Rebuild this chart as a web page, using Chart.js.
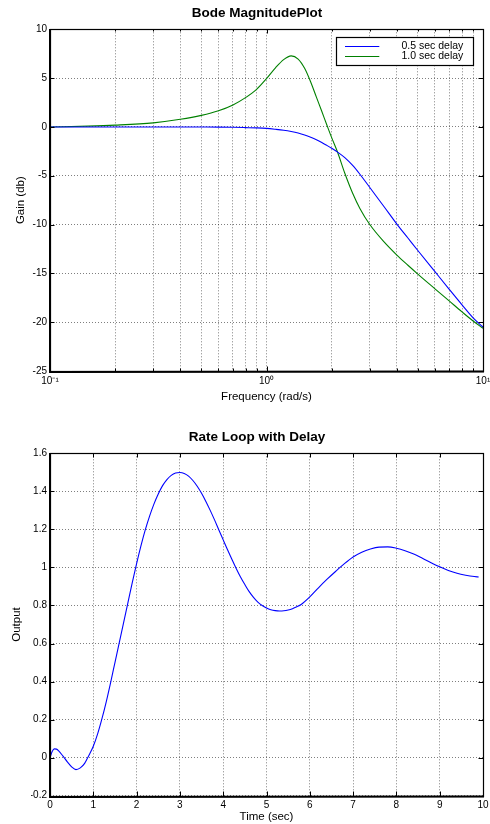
<!DOCTYPE html>
<html>
<head>
<meta charset="utf-8">
<script src="https://cdn.jsdelivr.net/npm/chart.js@4/dist/chart.umd.min.js"></script>
<style>
  html, body { margin: 0; padding: 0; background: #fff; }
  #wrap { position: relative; width: 490px; height: 824px; }
  canvas { position: absolute; left: 0; }
  #bode { top: 0; }
  #step { top: 412px; }
</style>
</head>
<body>
<div id="wrap">
  <canvas id="bode" width="490" height="412"></canvas>
  <canvas id="step" width="490" height="412"></canvas>
</div>
<script>
// ---- Bode magnitude: frequency (rad/s) and gain (dB) for each delay ----
const bodeFreq = [0.1, 0.15, 0.2, 0.3, 0.4, 0.5, 0.6, 0.7, 0.8, 0.9, 1.0, 1.1, 1.2, 1.3, 1.4, 1.5, 1.6, 1.7, 1.8, 1.9,
                  2.0, 2.13, 2.3, 2.5, 2.7, 3.0, 3.5, 4.0, 4.5, 5.0, 6.0, 7.0, 8.0, 9.0, 10];
const gainHalfSec = [0, 0, 0, 0, 0, -0.01, -0.02, -0.04, -0.07, -0.1, -0.15, -0.24, -0.34, -0.47, -0.63, -0.83, -1.06, -1.31, -1.59, -1.89,
                     -2.19, -2.58, -3.15, -3.95, -4.85, -6.2, -8.2, -9.95, -11.38, -12.66, -14.83, -16.66, -18.22, -19.55, -20.5];
const gainOneSec = [0, 0.08, 0.18, 0.42, 0.78, 1.18, 1.65, 2.25, 3.0, 3.85, 4.95, 6.05, 6.9, 7.28, 6.95, 6.0, 4.6, 3.05, 1.6, 0.2,
                    -1.1, -2.6, -4.75, -6.8, -8.35, -10.0, -11.81, -13.13, -14.17, -15.07, -16.58, -17.85, -18.95, -19.88, -20.62];
const seriesLabels = ['0.5 sec delay', '1.0 sec delay'];

// log-axis grid positions and the decade labels
const freqTicks = [0.1, 0.2, 0.3, 0.4, 0.5, 0.6, 0.7, 0.8, 0.9, 1, 2, 3, 4, 5, 6, 7, 8, 9, 10];
const decadeLabels = { '0.1': '10\u207B\u00B9', '1': '10\u2070', '10': '10\u00B9' };
const gainTicks = [-25, -20, -15, -10, -5, 0, 5, 10];

// ---- Step response of the rate loop ----
const stepTime = [0, 0.05, 0.1, 0.15, 0.2, 0.3, 0.4, 0.5, 0.6, 0.7, 0.8, 0.9,
                  1.0, 1.1, 1.2, 1.3, 1.4, 1.5, 1.6, 1.7, 1.8, 1.9,
                  2.0, 2.1, 2.2, 2.3, 2.4, 2.5, 2.6, 2.7, 2.8, 2.9,
                  3.0, 3.1, 3.2, 3.3, 3.4, 3.5, 3.6, 3.7, 3.8, 3.9,
                  4.0, 4.1, 4.2, 4.3, 4.4, 4.5, 4.6, 4.7, 4.8, 4.9,
                  5.0, 5.1, 5.2, 5.3, 5.4, 5.5, 5.6, 5.7, 5.8,
                  6.0, 6.2, 6.4, 6.6, 6.8, 7.0, 7.2, 7.4, 7.6, 7.8,
                  8.0, 8.2, 8.4, 8.6, 8.8, 9.0, 9.2, 9.4, 9.6, 9.8, 9.9];
const stepOutput = [0, 0.032, 0.046, 0.045, 0.036, 0.008, -0.022, -0.048, -0.063, -0.054, -0.030, 0.013,
                    0.06, 0.125, 0.205, 0.295, 0.395, 0.5, 0.605, 0.71, 0.815, 0.92,
                    1.02, 1.113, 1.197, 1.27, 1.333, 1.386, 1.43, 1.462, 1.484, 1.496,
                    1.499, 1.494, 1.48, 1.457, 1.427, 1.39, 1.347, 1.30, 1.25, 1.197,
                    1.145, 1.093, 1.043, 0.995, 0.95, 0.91, 0.873, 0.843, 0.818, 0.8,
                    0.787, 0.778, 0.773, 0.771, 0.772, 0.776, 0.783, 0.793, 0.805,
                    0.845, 0.893, 0.938, 0.98, 1.02, 1.055, 1.08, 1.097, 1.107, 1.108,
                    1.101, 1.088, 1.07, 1.048, 1.025, 1.003, 0.984, 0.969, 0.959, 0.952, 0.95];
const timeTicks = [0, 1, 2, 3, 4, 5, 6, 7, 8, 9, 10];
const outputTicks = [-0.2, 0, 0.2, 0.4, 0.6, 0.8, 1, 1.2, 1.4, 1.6];

const FONT = '"Liberation Sans", Arial, Helvetica, sans-serif';
const GRID = 'rgba(0,0,0,0.5)';

// Axes box with inward tick marks on all four sides
const frame = {
  id: 'frame',
  afterDraw(chart) {
    const { ctx, chartArea: a } = chart;
    const xs = chart.scales.x, ys = chart.scales.y;
    const L = Math.round(a.left), R = Math.round(a.right), T = Math.round(a.top), B = Math.round(a.bottom);
    ctx.save();
    ctx.strokeStyle = '#000';
    ctx.lineWidth = 1;
    ctx.beginPath();
    xs.ticks.forEach(t => {
      const minor = xs.type === 'logarithmic' && !(String(t.value) in decadeLabels);
      const len = minor ? 2.5 : 4.5;
      const px = Math.round(xs.getPixelForValue(t.value)) + 0.5;
      ctx.moveTo(px, B); ctx.lineTo(px, B - len);
      ctx.moveTo(px, T); ctx.lineTo(px, T + len);
    });
    ys.ticks.forEach(t => {
      const py = Math.round(ys.getPixelForValue(t.value)) + 0.5;
      ctx.moveTo(L, py); ctx.lineTo(L + 4.5, py);
      ctx.moveTo(R, py); ctx.lineTo(R - 4.5, py);
    });
    ctx.stroke();
    ctx.lineWidth = 1.2;
    ctx.strokeRect(L + 0.5, T + 0.5, R - L, B - T);
    ctx.lineWidth = 2;
    ctx.beginPath();
    ctx.moveTo(L, T); ctx.lineTo(L, B + 1); ctx.lineTo(R + 1, B + 0.5);
    ctx.stroke();
    ctx.restore();
  }
};

// Boxed legend in the upper right of the plot area
const boxLegend = {
  id: 'boxLegend',
  afterDraw(chart) {
    const { ctx, chartArea: a } = chart;
    const w = 136.7, h = 27.7;
    const x0 = a.right - 10.3 - w, y0 = a.top + 8;
    ctx.save();
    ctx.fillStyle = '#fff';
    ctx.fillRect(x0, y0, w, h);
    ctx.strokeStyle = '#000';
    ctx.lineWidth = 1.2;
    ctx.strokeRect(Math.round(x0) + 0.5, Math.round(y0) + 0.5, Math.round(w), Math.round(h));
    ctx.font = '10.5px ' + FONT;
    ctx.textAlign = 'right';
    ctx.textBaseline = 'middle';
    chart.data.datasets.forEach((ds, i) => {
      const yy = Math.round(y0 + 8.7 + i * 10) + 0.5;
      ctx.strokeStyle = ds.borderColor;
      ctx.lineWidth = 1.1;
      ctx.beginPath(); ctx.moveTo(x0 + 9, yy); ctx.lineTo(x0 + 43.3, yy); ctx.stroke();
      ctx.fillStyle = '#000';
      ctx.fillText(ds.label, x0 + w - 9.4, yy);
    });
    ctx.restore();
  }
};

function lineSet(label, xs, ys, color) {
  return {
    label,
    data: xs.map((x, i) => ({ x, y: ys[i] })),
    borderColor: color,
    borderWidth: 1.1,
    pointRadius: 0,
    fill: false,
    cubicInterpolationMode: 'monotone'
  };
}

function axisTitle(text, pad) {
  return { display: true, text, color: '#000', font: { family: FONT, size: 11.5, lineHeight: 1.2 }, padding: pad };
}

const common = {
  responsive: false,
  animation: false,
  events: [],
  devicePixelRatio: 1
};

new Chart(document.getElementById('bode'), {
  type: 'line',
  data: {
    datasets: [
      lineSet(seriesLabels[0], bodeFreq, gainHalfSec, '#0000ff'),
      lineSet(seriesLabels[1], bodeFreq, gainOneSec, '#008000')
    ]
  },
  options: Object.assign({}, common, {
    layout: { padding: { left: 31, right: 7, top: 0, bottom: 0 } },
    plugins: {
      legend: { display: false },
      tooltip: { enabled: false },
      title: {
        display: true, text: 'Bode MagnitudePlot', color: '#000',
        font: { family: FONT, size: 13.5, weight: 'bold', lineHeight: 1.2 },
        padding: { top: 5.2, bottom: 7.9 }
      }
    },
    scales: {
      x: {
        type: 'logarithmic', min: 0.1, max: 10,
        afterBuildTicks: ax => { ax.ticks = freqTicks.map(v => ({ value: v })); },
        afterFit: ax => { ax.height = 41; ax.paddingLeft = 0; ax.paddingRight = 0; },
        ticks: {
          autoSkip: false, maxRotation: 0, padding: 4.7, color: '#000',
          font: { family: FONT, size: 10 },
          callback: v => decadeLabels[String(v)] ?? ''
        },
        grid: { color: GRID, lineWidth: 1, drawTicks: false },
        border: { display: false, dash: [1, 2] },
        title: axisTitle('Frequency (rad/s)', { top: 0, bottom: 8.6 })
      },
      y: {
        min: -25, max: 10,
        afterBuildTicks: ax => { ax.ticks = gainTicks.map(v => ({ value: v })); },
        afterFit: ax => { ax.width = 19; ax.paddingTop = 0; ax.paddingBottom = 0; },
        ticks: { autoSkip: false, padding: 3, color: '#000', font: { family: FONT, size: 10 }, callback: v => String(v) },
        grid: { color: GRID, lineWidth: 1, drawTicks: false },
        border: { display: false, dash: [1, 2] },
        title: axisTitle('Gain (db)', { top: -16.9, bottom: 0 })
      }
    }
  }),
  plugins: [frame, boxLegend]
});

new Chart(document.getElementById('step'), {
  type: 'line',
  data: {
    datasets: [lineSet('Output', stepTime, stepOutput, '#0000ff')]
  },
  options: Object.assign({}, common, {
    layout: { padding: { left: 31, right: 7, top: 0, bottom: 0 } },
    plugins: {
      legend: { display: false },
      tooltip: { enabled: false },
      title: {
        display: true, text: 'Rate Loop with Delay', color: '#000',
        font: { family: FONT, size: 13.5, weight: 'bold', lineHeight: 1.2 },
        padding: { top: 17.1, bottom: 8.0 }
      }
    },
    scales: {
      x: {
        type: 'linear', min: 0, max: 10,
        afterBuildTicks: ax => { ax.ticks = timeTicks.map(v => ({ value: v })); },
        afterFit: ax => { ax.height = 28.3; ax.paddingLeft = 0; ax.paddingRight = 0; },
        ticks: { autoSkip: false, maxRotation: 0, padding: 3.3, color: '#000', font: { family: FONT, size: 10 }, callback: v => String(v) },
        grid: { color: GRID, lineWidth: 1, drawTicks: false },
        border: { display: false, dash: [1, 2] },
        title: axisTitle('Time (sec)', { top: 0, bottom: 0.1 })
      },
      y: {
        min: -0.2, max: 1.6,
        afterBuildTicks: ax => { ax.ticks = outputTicks.map(v => ({ value: v })); },
        afterFit: ax => { ax.width = 19; ax.paddingTop = 0; ax.paddingBottom = 0; },
        ticks: { autoSkip: false, padding: 3, color: '#000', font: { family: FONT, size: 10 }, callback: v => String(v) },
        grid: { color: GRID, lineWidth: 1, drawTicks: false },
        border: { display: false, dash: [1, 2] },
        title: axisTitle('Output', { top: -20.7, bottom: 0 })
      }
    }
  }),
  plugins: [frame]
});
</script>
</body>
</html>
